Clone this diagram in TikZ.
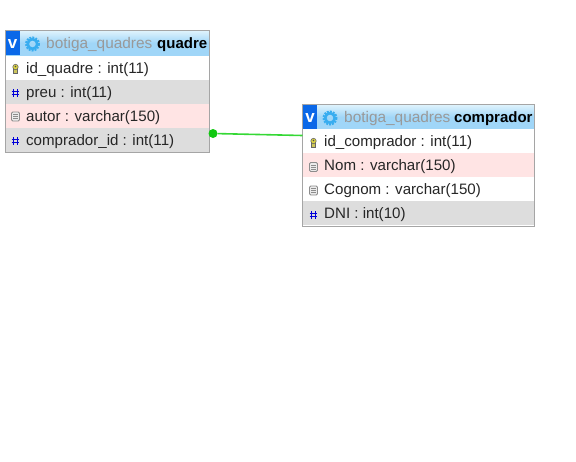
\documentclass[tikz,border=0pt]{standalone}
\usepackage{fontspec}
\setmainfont{Liberation Sans}
\definecolor{headblue}{HTML}{A0D6F8}
\definecolor{headtop}{HTML}{DDF2FC}
\definecolor{rowgrey}{HTML}{DDDDDD}
\definecolor{rowpink}{HTML}{FFE4E4}
\definecolor{edgegrey}{HTML}{A5A5A5}
\definecolor{linkgreen}{HTML}{35D835}
\definecolor{dotgreen}{HTML}{10C810}
\definecolor{gearblue}{HTML}{38ADF0}
\definecolor{vblue}{HTML}{0A68E8}
\tikzset{
  rowbox/.style={minimum height=24, anchor=north west, inner sep=0, outer sep=0},
  rowtext/.style={anchor=west, inner sep=0, font=\fontsize{15.1}{16}\selectfont, text=black!85},
  dbname/.style={anchor=west, inner sep=0, font=\fontsize{15.4}{16}\selectfont, text=black!40},
  tabname/.style={anchor=west, inner sep=0, font=\fontsize{15}{16}\selectfont\bfseries, text=black},
  framebox/.style={draw=edgegrey, line width=1, anchor=north west, inner sep=0, outer sep=0},
  vmark/.style={anchor=center, inner sep=0, text=white, font=\fontsize{17}{17}\selectfont\bfseries},
  fkdot/.style={circle, fill=dotgreen, minimum size=9, inner sep=0},
}
% small pictures for the column icons
\newcommand{\keyicon}[1]{
  \fill[yellow!55!gray, draw=black!60, line width=.6] (#1) ++(-1.8,-1) rectangle ++(3.6,5);
  \fill[yellow!70!gray, draw=black!60, line width=.6] (#1) ++(0,-2) circle (2.7);
  \fill[black!70] (#1) ++(0,-2.5) circle (.8);
}
\newcommand{\docicon}[1]{
  \draw[black!45, fill=black!8, rounded corners=1.2, line width=.8] (#1) ++(-4,-4.5) rectangle ++(8,9);
  \draw[black!45, line width=.6] (#1) ++(-2.3,-2) -- ++(4.6,0) ++(-4.6,2) -- ++(4.6,0) ++(-4.6,2) -- ++(4.6,0);
}
\newcommand{\hashmark}[1]{
  \draw[blue!85!black, line width=1.2] (#1) ++(-1.8,-4) -- ++(0,8) ++(3.6,-8) -- ++(0,8);
  \draw[blue!85!black, line width=1.2] (#1) ++(-3.8,-1.6) -- ++(7.6,0) ++(-7.6,3.2) -- ++(7.6,0);
}
\newcommand{\gearicon}[1]{
  \draw[gearblue, line width=2.6, dash pattern=on 1.8 off 1.1] (#1) circle (6.2);
  \draw[gearblue, line width=2.6] (#1) circle (4.8);
}
\begin{document}
\begin{tikzpicture}[x=1pt,y=-1pt]
\useasboundingbox (0,0) rectangle (576,461);
% table quadre
\node[rowbox, minimum width=204, top color=headtop, bottom color=headblue, middle color=headblue] (quadrehead) at (5,31) {};
\fill[vblue] (5,31) rectangle (20,55);
\node[vmark] (quadrev) at (12.5,44) {v};
\gearicon{32.5,44}
\node[dbname] (quadredb) at (46,45) {botiga\_quadres};
\node[tabname] (quadrename) at (157,45) {quadre};
\node[rowbox, minimum width=204, fill=white] (quadre1) at (5,56) {};
\node[rowbox, minimum width=204, fill=rowgrey] (quadre2) at (5,80) {};
\node[rowbox, minimum width=204, fill=rowpink] (quadre3) at (5,104) {};
\node[rowbox, minimum width=204, fill=rowgrey] (quadre4) at (5,128) {};
\keyicon{15.5,69}
\hashmark{15.5,93}
\docicon{15.5,116.5}
\hashmark{15.5,141}
\node[rowtext] (quadret1) at (26,69.7) {id\_quadre : int(11)};
\node[rowtext] (quadret2) at (26,93.7) {preu : int(11)};
\node[rowtext] (quadret3) at (26,117.7) {autor : varchar(150)};
\node[rowtext] (quadret4) at (26,141.7) {comprador\_id : int(11)};
\node[framebox, minimum width=204, minimum height=122] (quadre) at (5.5,30.5) {};
% table comprador
\node[rowbox, minimum width=231, top color=headtop, bottom color=headblue, middle color=headblue] (comphead) at (303,105) {};
\fill[vblue] (303,105) rectangle (317,129);
\node[vmark] (compv) at (310,118) {v};
\gearicon{330,118}
\node[dbname] (compdb) at (344,119) {botiga\_quadres};
\node[tabname] (compname) at (454,119) {comprador};
\node[rowbox, minimum width=231, fill=white] (comp1) at (303,129) {};
\node[rowbox, minimum width=231, fill=rowpink] (comp2) at (303,153) {};
\node[rowbox, minimum width=231, fill=white] (comp3) at (303,177) {};
\node[rowbox, minimum width=231, fill=rowgrey] (comp4) at (303,201) {};
\keyicon{313.5,143}
\docicon{313.5,167}
\docicon{313.5,190.5}
\hashmark{313.5,215}
\node[rowtext] (compt1) at (324,142.7) {id\_comprador : int(11)};
\node[rowtext] (compt2) at (324,166.7) {Nom : varchar(150)};
\node[rowtext] (compt3) at (324,190.7) {Cognom : varchar(150)};
\node[rowtext] (compt4) at (324,214.7) {DNI : int(10)};
\node[framebox, minimum width=231.5, minimum height=121.5] (comp) at (302.5,104.5) {};
% link
\node[fkdot] (fk) at (213,133.5) {};
\coordinate (pk) at (302.5,135.5);
\draw[linkgreen, line width=1.6] (fk) -- (pk);
\end{tikzpicture}
\end{document}
